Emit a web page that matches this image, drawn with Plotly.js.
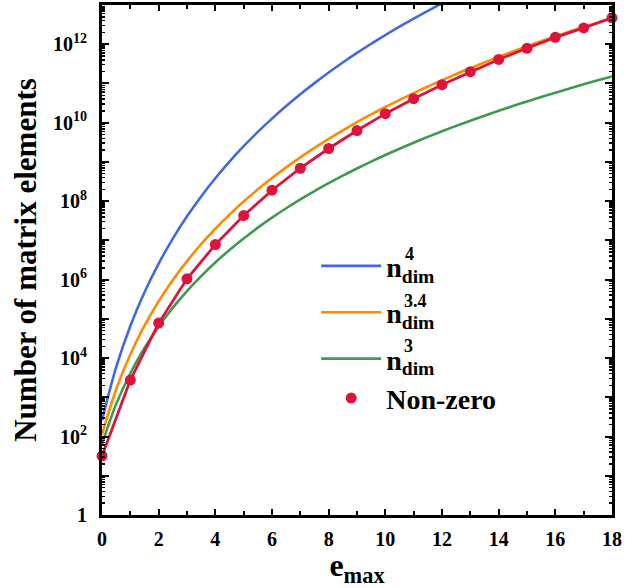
<!DOCTYPE html>
<html>
<head>
<meta charset="utf-8">
<script src="https://cdn.plot.ly/plotly-3.0.1.min.js"></script>
<style>html,body{margin:0;padding:0;background:#fff;}#chart{width:638px;height:588px;}</style>
</head>
<body>
<div id="chart"></div>
<script>
// e_max sampling for the smooth reference curves
const eCurve = [0,0.5,1,1.5,2,2.5,3,3.5,4,4.5,5,5.5,6,6.5,7,7.5,8,8.5,9,9.5,10,10.5,11,11.5,12,12.5,13,13.5,14,14.5,15,15.5,16,16.5,17,17.5,18];
// n_dim^4 (blue) – leaves the frame near e_max = 12
const ePow4 = [0,0.5,1,1.5,2,2.5,3,3.5,4,4.5,5,5.5,6,6.5,7,7.5,8,8.5,9,9.5,10,10.5,11,11.5,12,12.5];
const pow4 = [2.56e2,5.86e3,6.55e4,4.75e5,2.56e6,1.11e7,4.10e7,1.32e8,3.84e8,1.02e9,2.52e9,5.82e9,1.27e10,2.66e10,5.31e10,1.02e11,1.90e11,3.42e11,6.00e11,1.03e12,1.71e12,2.80e12,4.49e12,7.08e12,1.10e13,1.67e13];
// n_dim^3.4 (orange)
const pow34 = [1.11e2,1.60e3,1.24e4,6.68e4,2.80e5,9.76e5,2.96e6,8.00e6,1.98e7,4.55e7,9.79e7,2.00e8,3.88e8,7.26e8,1.31e9,2.28e9,3.86e9,6.37e9,1.03e10,1.62e10,2.51e10,3.80e10,5.69e10,8.37e10,1.21e11,1.74e11,2.46e11,3.44e11,4.76e11,6.52e11,8.85e11,1.19e12,1.59e12,2.10e12,2.76e12,3.60e12,4.66e12];
// n_dim^3 (green)
const pow3 = [6.40e1,6.70e2,4.10e3,1.81e4,6.40e4,1.93e5,5.12e5,1.23e6,2.74e6,5.71e6,1.12e7,2.11e7,3.79e7,6.58e7,1.11e8,1.81e8,2.87e8,4.47e8,6.81e8,1.02e9,1.50e9,2.17e9,3.09e9,4.34e9,6.03e9,8.28e9,1.12e10,1.51e10,2.01e10,2.66e10,3.48e10,4.52e10,5.82e10,7.46e10,9.48e10,1.20e11,1.51e11];
// Non-zero matrix elements (red points)
const eNZ = [0,1,2,3,4,5,6,7,8,9,10,11,12,13,14,15,16,17,18];
const nonZero = [3.2e1,2.75e3,7.8e4,1.05e6,7.8e6,4.3e7,1.9e8,6.9e8,2.2e9,6.3e9,1.7e10,4.1e10,9.3e10,2.0e11,4.1e11,7.9e11,1.5e12,2.6e12,4.7e12];

const yTickVals = [1,1e1,1e2,1e3,1e4,1e5,1e6,1e7,1e8,1e9,1e10,1e11,1e12];
const yTickText = ['1','','10<sup>2</sup>','','10<sup>4</sup>','','10<sup>6</sup>','','10<sup>8</sup>','','10<sup>10</sup>','','10<sup>12</sup>'];
const seriesNames = ['n<sub>dim</sub>','n<sub>dim</sub>','n<sub>dim</sub>','Non-zero'];
const exponents = ['4','3.4','3'];

const FONT = 'Liberation Serif, Times New Roman, serif';
const cBlue = '#4169E1', cOrange = '#FF8C00', cGreen = '#3E9A4C', cRed = '#DC143C';

const traces = [
  {x: ePow4, y: pow4, mode:'lines', line:{color:cBlue, width:2.6, shape:'spline'}, name: seriesNames[0], legendgroup:'g1'},
  {x: eCurve, y: pow34, mode:'lines', line:{color:cOrange, width:2.6, shape:'spline'}, name: seriesNames[1], legendgroup:'g2'},
  {x: eCurve, y: pow3, mode:'lines', line:{color:cGreen, width:2.6, shape:'spline'}, name: seriesNames[2], legendgroup:'g3'},
  {x: eNZ, y: nonZero, mode:'lines', line:{color:cRed, width:2.8}, showlegend:false, hoverinfo:'skip', legendgroup:'g3'},
  {x: eNZ, y: nonZero, mode:'markers', marker:{color:cRed, size:11}, name: seriesNames[3], legendgroup:'g3', cliponaxis:false}
];

const axisCommon = {
  showline:true, linecolor:'black', linewidth:3, mirror:'allticks',
  ticks:'inside', tickcolor:'black', tickwidth:2, showgrid:false, zeroline:false,
  tickfont:{family:FONT, size:20, color:'black', weight:'bold'}
};

// superscript exponents stacked above the "dim" subscripts in the legend
const supPos = [[0.590, 0.511], [0.588, 0.4187], [0.588, 0.3305]];
const annotations = exponents.map((t, i) => ({
  xref:'paper', yref:'paper', x:supPos[i][0], y:supPos[i][1], xanchor:'left', yanchor:'middle',
  text:t, showarrow:false, font:{family:FONT, size:18, color:'black', weight:'bold'}
}));

const layout = {
  width:638, height:588,
  margin:{l:102, r:26, t:5, b:73},
  paper_bgcolor:'white', plot_bgcolor:'white',
  showlegend:true,
  legend:{x:0.42, y:0.537, xanchor:'left', yanchor:'top', bgcolor:'rgba(0,0,0,0)', tracegroupgap:7,
          font:{family:FONT, size:28, color:'black', weight:'bold'}, itemwidth:60},
  xaxis: Object.assign({}, axisCommon, {
    range:[0,18], dtick:2, tick0:0, ticklen:6,
    minor:{dtick:1, ticks:'inside', ticklen:4, tickwidth:2, tickcolor:'black'},
    ticklabelstandoff:4,
    title:{text:'e<sub>max</sub>', font:{family:FONT, size:32, color:'black', weight:'bold'}, standoff:10}
  }),
  yaxis: Object.assign({}, axisCommon, {
    type:'log', range:[0,13], tickmode:'array', tickvals:yTickVals, ticktext:yTickText, ticklen:7,
    minor:{dtick:'D1', ticks:'inside', ticklen:3, tickwidth:1.5, tickcolor:'black'},
    ticklabelstandoff:8,
    title:{text:'Number of matrix elements', font:{family:FONT, size:31, color:'black', weight:'bold'}, standoff:8}
  }),
  annotations: annotations
};

Plotly.newPlot('chart', traces, layout, {displayModeBar:false, staticPlot:true});
</script>
</body>
</html>
